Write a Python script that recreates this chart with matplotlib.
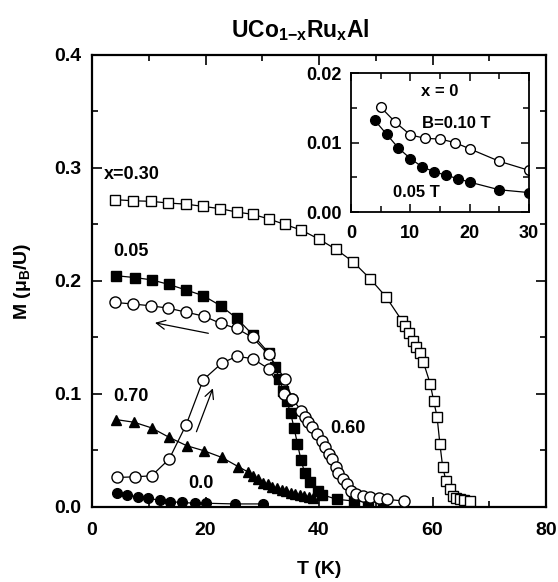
import matplotlib
matplotlib.use("Agg")
import matplotlib.pyplot as plt
from matplotlib.ticker import MultipleLocator, FormatStrFormatter

plt.rcParams['font.family'] = ['Liberation Sans', 'DejaVu Sans']
plt.rcParams['font.weight'] = 'bold'
plt.rcParams['mathtext.fontset'] = 'custom'
plt.rcParams['mathtext.rm'] = 'Liberation Sans:bold'
plt.rcParams['mathtext.it'] = 'Liberation Sans:bold'
plt.rcParams['mathtext.bf'] = 'Liberation Sans:bold'

# ---- main panel data: M (mu_B/U) versus T (K) ----
t_x030 = [4.0, 7.2, 10.4, 13.4, 16.6, 19.6, 22.6, 25.5, 28.3, 31.1, 34.0, 36.9,
          40.0, 43.0, 46.0, 49.0, 51.8, 54.6, 55.2, 55.8, 56.5, 57.1, 57.8, 58.4,
          59.6, 60.2, 60.8, 61.3, 61.8, 62.4, 63.0, 63.6, 64.2, 64.8, 65.6, 66.6]
m_x030 = [0.272, 0.271, 0.2705, 0.269, 0.268, 0.266, 0.264, 0.261, 0.259, 0.255,
          0.250, 0.245, 0.237, 0.228, 0.217, 0.202, 0.186, 0.165, 0.160, 0.154,
          0.147, 0.142, 0.136, 0.128, 0.109, 0.094, 0.080, 0.056, 0.035, 0.023,
          0.016, 0.010, 0.008, 0.007, 0.006, 0.0055]

t_x005 = [4.2, 7.6, 10.5, 13.5, 16.6, 19.6, 22.7, 25.5, 28.4, 31.2, 32.3, 33.0,
          33.7, 34.3, 35.0, 35.6, 36.2, 36.8, 37.5, 38.4, 39.9, 40.5, 43.1, 46.1,
          48.7, 51.3]
m_x005 = [0.2047, 0.203, 0.201, 0.197, 0.192, 0.187, 0.178, 0.167, 0.152, 0.136,
          0.124, 0.113, 0.103, 0.094, 0.083, 0.070, 0.056, 0.042, 0.030, 0.022,
          0.014, 0.011, 0.0068, 0.0053, 0.0047, 0.0038]

# x = 0.60, field-cooled branch
t_x060_fc = [4.05, 7.3, 10.4, 13.4, 16.6, 19.7, 22.7, 25.5, 28.3, 31.1, 34.0, 35.3]
m_x060_fc = [0.181, 0.1796, 0.178, 0.176, 0.1724, 0.1689, 0.1624, 0.158, 0.150,
             0.135, 0.113, 0.0957]

# x = 0.60, zero-field-cooled branch
t_x060_zfc = [4.35, 7.6, 10.5, 13.6, 16.6, 19.6, 22.9, 25.5, 28.3, 31.1, 33.9,
              35.3, 36.9, 37.5, 38.1, 38.7, 39.6, 40.5, 41.1, 41.7, 42.3, 43.0,
              43.4, 44.3, 44.9, 45.7, 46.6, 47.8, 49.0, 50.5, 51.9, 54.9]
m_x060_zfc = [0.0261, 0.0267, 0.0276, 0.0424, 0.0729, 0.1126, 0.1274, 0.1333,
              0.1313, 0.1224, 0.100, 0.0957, 0.085, 0.0794, 0.075, 0.0705, 0.0646,
              0.0587, 0.0527, 0.0468, 0.0424, 0.035, 0.0305, 0.0246, 0.0202,
              0.0142, 0.0113, 0.0098, 0.0089, 0.0077, 0.0068, 0.0053]

t_x070 = [4.3, 7.4, 10.5, 13.6, 16.7, 19.7, 22.9, 25.8, 27.5, 28.4, 29.3, 30.2,
          31.0, 31.8, 32.6, 33.4, 34.2, 35.0, 35.8, 36.6, 37.4, 38.2, 39.0]
m_x070 = [0.0773, 0.075, 0.070, 0.0616, 0.0542, 0.0498, 0.0438, 0.0356, 0.031,
          0.0276, 0.0246, 0.0216, 0.020, 0.018, 0.0165, 0.015, 0.0138, 0.0125,
          0.0115, 0.0105, 0.0095, 0.0088, 0.008]

t_x000 = [4.35, 6.1, 8.1, 9.9, 11.9, 13.7, 15.8, 18.1, 20.1, 25.2, 30.1]
m_x000 = [0.0127, 0.0106, 0.0091, 0.0077, 0.006, 0.0047, 0.004, 0.0033, 0.0033,
          0.0027, 0.0027]

# ---- inset data: x = 0 at low fields ----
t_b010 = [5, 7.5, 10, 12.5, 15, 17.5, 20, 25, 30]
m_b010 = [0.0151, 0.0129, 0.0111, 0.0106, 0.0105, 0.0100, 0.0091, 0.0073, 0.0060]
t_b005 = [4, 6, 8, 10, 12, 14, 16, 18, 20, 25, 30]
m_b005 = [0.0132, 0.0112, 0.0092, 0.0077, 0.0065, 0.0058, 0.0053, 0.0048,
          0.0043, 0.0032, 0.0028]

fig = plt.figure(figsize=(5.58, 5.82), dpi=100)
ax = fig.add_axes([0.1649, 0.1289, 0.8136, 0.7766])

line_kw = dict(color='black', lw=0.9)
open_kw = dict(mfc='white', mec='black', mew=1.0)
fill_kw = dict(mfc='black', mec='black', mew=1.0)

ax.plot(t_x000, m_x000, marker='o', ms=7, **line_kw, **fill_kw, zorder=3)
ax.plot(t_x070, m_x070, marker='^', ms=7.5, **line_kw, **fill_kw, zorder=3)
ax.plot(t_x005, m_x005, marker='s', ms=7, **line_kw, **fill_kw, zorder=3)
ax.plot(t_x060_zfc, m_x060_zfc, marker='o', ms=8, **line_kw, **open_kw, zorder=4)
ax.plot(t_x060_fc, m_x060_fc, marker='o', ms=8, **line_kw, **open_kw, zorder=4)
ax.plot(t_x030, m_x030, marker='s', ms=7.5, **line_kw, **open_kw, zorder=4)

ax.set_xlim(0, 80)
ax.set_ylim(0, 0.4)
ax.xaxis.set_major_locator(MultipleLocator(20))
ax.xaxis.set_minor_locator(MultipleLocator(10))
ax.yaxis.set_major_locator(MultipleLocator(0.1))
ax.yaxis.set_minor_locator(MultipleLocator(0.05))
ax.yaxis.set_major_formatter(FormatStrFormatter('%.1f'))
ax.tick_params(which='both', direction='in', top=True, right=True, width=1.2)
ax.tick_params(which='major', length=7)
ax.tick_params(which='minor', length=4.5)
ax.tick_params(axis='x', which='major', pad=11, labelsize=14)
ax.tick_params(axis='y', which='major', pad=8, labelsize=14)
for s in ax.spines.values():
    s.set_linewidth(1.6)

ax.set_xlabel('T (K)', fontsize=14, fontweight='bold')
ax.xaxis.set_label_coords(0.5, -0.119)
ax.set_ylabel(r'M ($\mu_{\mathrm{B}}$/U)', fontsize=14, fontweight='bold')
ax.yaxis.set_label_coords(-0.13, 0.5)

txt_kw = dict(fontsize=13, fontweight='bold', ha='left', va='center')
ax.text(2.1, 0.294, 'x=0.30', **txt_kw)
ax.text(3.7, 0.226, '0.05', **txt_kw)
ax.text(3.7, 0.098, '0.70', **txt_kw)
ax.text(17.0, 0.021, '0.0', **txt_kw)
ax.text(41.9, 0.0696, '0.60', **txt_kw)

arrow_kw = dict(arrowstyle='->', lw=0.9, color='black', mutation_scale=16,
                shrinkA=0, shrinkB=0)
ax.annotate('', xy=(11.1, 0.163), xytext=(20.5, 0.1537), arrowprops=arrow_kw)
ax.annotate('', xy=(21.3, 0.105), xytext=(18.4, 0.0666), arrowprops=arrow_kw)

fig.text(0.5376, 0.948, r'UCo$_{1\mathrm{-x}}$Ru$_{\mathrm{x}}$Al', fontsize=16.5,
         fontweight='bold', ha='center', va='center')

# ---- inset ----
axi = fig.add_axes([0.629, 0.6357, 0.319, 0.2388])
axi.plot(t_b010, m_b010, marker='o', ms=7, **line_kw, **open_kw)
axi.plot(t_b005, m_b005, marker='o', ms=7, **line_kw, **fill_kw)
axi.set_xlim(0, 30)
axi.set_ylim(0, 0.02)
axi.xaxis.set_major_locator(MultipleLocator(10))
axi.xaxis.set_minor_locator(MultipleLocator(5))
axi.yaxis.set_major_locator(MultipleLocator(0.01))
axi.yaxis.set_minor_locator(MultipleLocator(0.005))
axi.yaxis.set_major_formatter(FormatStrFormatter('%.2f'))
axi.tick_params(which='both', direction='in', top=True, right=True, width=1.1)
axi.tick_params(which='major', length=6)
axi.tick_params(which='minor', length=4)
axi.tick_params(axis='x', which='major', pad=9, labelsize=13)
axi.tick_params(axis='y', which='major', pad=7, labelsize=13)
for s in axi.spines.values():
    s.set_linewidth(1.3)
axi.text(15.0, 0.0173, 'x = 0', fontsize=12, fontweight='bold', ha='center', va='center')
axi.text(17.8, 0.0128, 'B=0.10 T', fontsize=12, fontweight='bold', ha='center', va='center')
axi.text(11.1, 0.0028, '0.05 T', fontsize=12, fontweight='bold', ha='center', va='center')

fig.savefig('out.png', dpi=100)
